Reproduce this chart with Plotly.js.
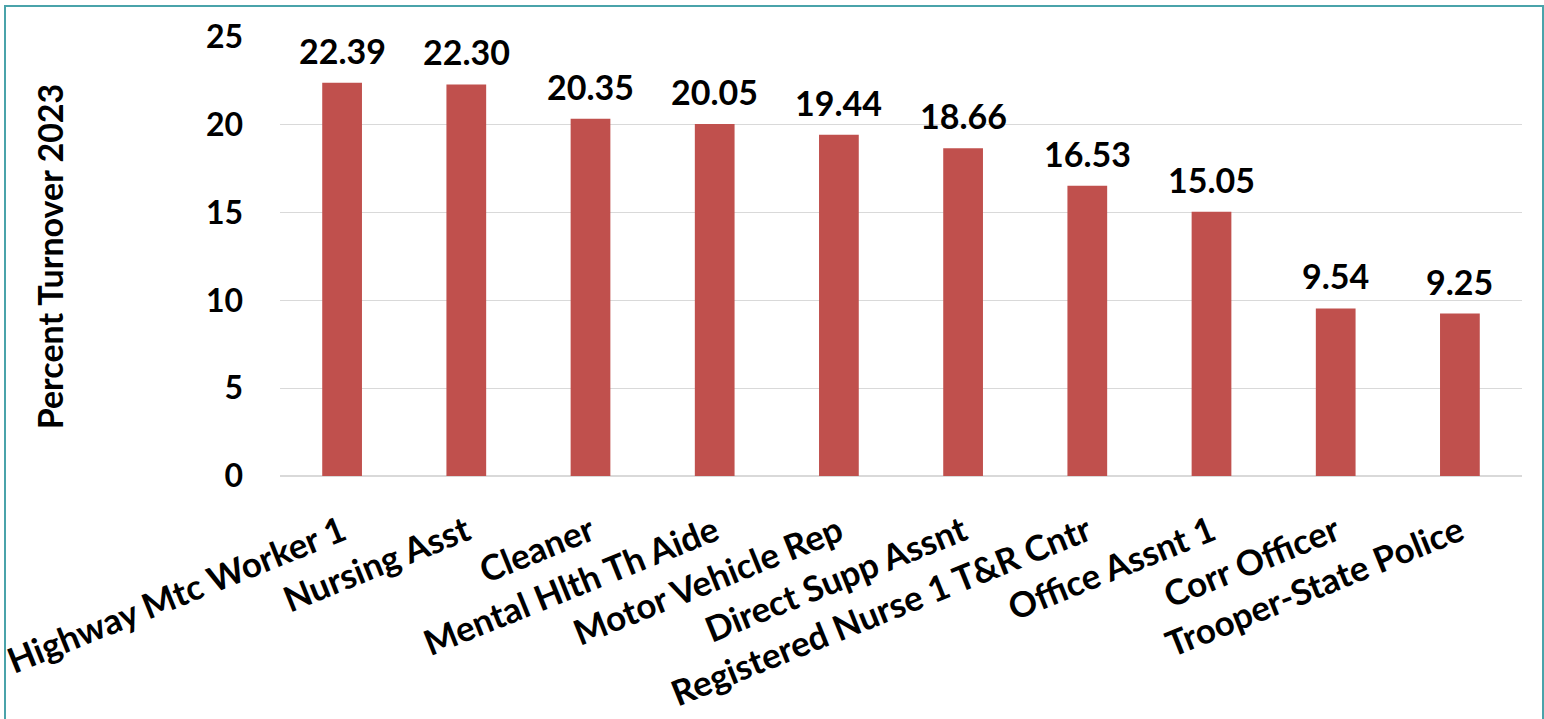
<!DOCTYPE html>
<html>
<head>
<meta charset="utf-8">
<script src="https://cdn.plot.ly/plotly-3.0.1.min.js"></script>
<style>
  html, body { margin: 0; padding: 0; background: #ffffff; }
  #frame {
    position: absolute; left: 4px; top: 5px;
    width: 1540px; height: 720px;
    border: 2px solid #4aa3aa; box-sizing: border-box;
  }
  #chart { position: absolute; left: 0; top: 0; width: 1544px; height: 719px; }
</style>
</head>
<body>
<div id="frame"></div>
<div id="chart"></div>
<script>
// Job titles and their 2023 turnover rate (%)
const jobTitles = [
  'Highway Mtc Worker 1', 'Nursing Asst', 'Cleaner', 'Mental Hlth Th Aide',
  'Motor Vehicle Rep', 'Direct Supp Assnt', 'Registered Nurse 1 T&R Cntr',
  'Office Assnt 1', 'Corr Officer', 'Trooper-State Police'
];
const turnover2023 = [22.39, 22.30, 20.35, 20.05, 19.44, 18.66, 16.53, 15.05, 9.54, 9.25];
const yTicks = [0, 5, 10, 15, 20, 25];

const FONT = 'Lato, "Noto Sans", sans-serif';
const barColor = '#c0504d';

const trace = {
  type: 'bar',
  x: jobTitles,
  y: turnover2023,
  marker: { color: barColor },
  hoverinfo: 'x+y'
};

// value labels above each bar
const valueLabels = jobTitles.map((t, i) => ({
  x: t, y: turnover2023[i], xref: 'x', yref: 'y',
  text: '<b>' + turnover2023[i].toFixed(2) + '</b>',
  showarrow: false, yanchor: 'bottom', yshift: 10,
  font: { family: FONT, size: 34, color: '#000000' }
}));

const layout = {
  width: 1544, height: 719,
  margin: { l: 280, r: 22, t: 37, b: 243 },
  paper_bgcolor: 'rgba(0,0,0,0)',
  plot_bgcolor: '#ffffff',
  showlegend: false,
  bargap: 0.68,
  xaxis: {
    type: 'category',
    tickangle: -22,
    ticks: '',
    ticklabelstandoff: 28,
    tickfont: { family: FONT, size: 35, color: '#000000', weight: 'bold' },
    showline: false,
    showgrid: false,
    fixedrange: true
  },
  yaxis: {
    range: [0, 25],
    tickvals: yTicks,
    ticktext: yTicks.map(String),
    ticklabelstandoff: 36,
    tickfont: { family: FONT, size: 32, color: '#000000', weight: 'bold' },
    showgrid: true,
    gridcolor: '#d9d9d9',
    gridwidth: 1,
    zeroline: true,
    zerolinecolor: '#d9d9d9',
    zerolinewidth: 2,
    showline: false,
    title: {
      text: '<b>Percent Turnover 2023</b>',
      font: { family: FONT, size: 34, color: '#000000' },
      standoff: 131
    },
    fixedrange: true
  },
  annotations: valueLabels
};

Plotly.newPlot('chart', [trace], layout, { displayModeBar: false, staticPlot: true });
</script>
</body>
</html>
